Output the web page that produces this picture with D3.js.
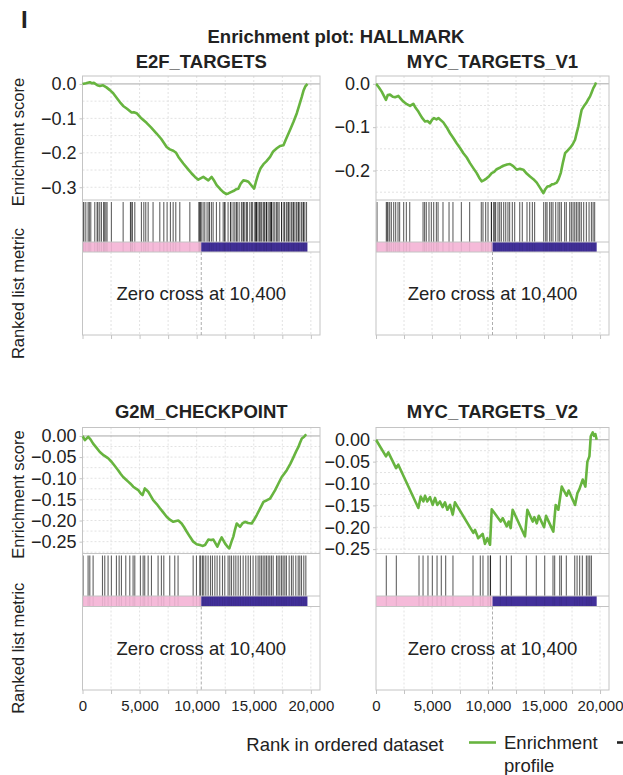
<!DOCTYPE html>
<html>
<head>
<meta charset="utf-8">
<script src="https://cdn.jsdelivr.net/npm/d3@7.9.0/dist/d3.min.js"></script>
<style>
  body { margin: 0; background: #fff; }
  text { font-family: "Liberation Sans", Arial, Helvetica, sans-serif; fill: #222; }
</style>
</head>
<body>
<svg id="chart" width="623" height="775"></svg>
<script>
// ---- data ----
const nGenes = 19700;
const zeroCross = 10400;
const rankMax = 20800;

const e2fCurve = [[0,0],[300,0.002],[640,0.005],[800,0.002],[1000,0.003],[1300,-0.004],[1520,-0.006],[1800,-0.004],[2100,-0.01],
  [2400,-0.018],[2690,-0.027],[3100,-0.045],[3350,-0.056],[3560,-0.064],[3900,-0.072],[4300,-0.083],[4500,-0.082],
  [4740,-0.085],[5100,-0.098],[5300,-0.104],[5610,-0.113],[6000,-0.126],[6490,-0.144],[6900,-0.16],[7370,-0.183],[7650,-0.19],
  [7950,-0.194],[8200,-0.2],[8400,-0.212],[8830,-0.231],[9200,-0.246],[9560,-0.26],[9850,-0.27],
  [10140,-0.278],[10580,-0.27],[11020,-0.28],[11310,-0.27],[11550,-0.282],[11750,-0.294],[12050,-0.305],[12330,-0.314],
  [12600,-0.32],[12770,-0.318],[13000,-0.314],[13210,-0.311],[13450,-0.306],[13650,-0.304],[13850,-0.29],[14090,-0.28],
  [14300,-0.281],[14530,-0.284],[14800,-0.295],[15030,-0.304],[15200,-0.283],[15410,-0.26],[15600,-0.245],[15850,-0.233],
  [16100,-0.225],[16430,-0.212],[16700,-0.196],[17020,-0.187],[17300,-0.18],[17600,-0.178],[17800,-0.162],[18040,-0.144],
  [18250,-0.128],[18480,-0.11],[18770,-0.085],[19000,-0.06],[19210,-0.037],[19350,-0.02],[19500,-0.008],[19700,0]];

const mycV1Curve = [[0,0],[250,-0.008],[510,-0.018],[890,-0.037],[1050,-0.026],[1250,-0.025],[1500,-0.03],[1700,-0.031],[1990,-0.028],
  [2200,-0.034],[2440,-0.041],[2750,-0.047],[3040,-0.051],[3330,-0.046],[3550,-0.056],[3780,-0.064],[4100,-0.078],[4375,-0.087],
  [4600,-0.086],[4820,-0.091],[5000,-0.083],[5180,-0.079],[5400,-0.082],[5570,-0.079],[6010,-0.089],[6300,-0.1],[6610,-0.114],
  [6900,-0.125],[7200,-0.137],[7500,-0.148],[7800,-0.16],[8100,-0.17],[8390,-0.183],[8700,-0.195],[8990,-0.206],[9200,-0.216],
  [9430,-0.225],[9650,-0.222],[9880,-0.218],[10100,-0.213],[10330,-0.206],[10550,-0.203],[10770,-0.197],[11100,-0.193],
  [11370,-0.189],[11700,-0.186],[11960,-0.185],[12250,-0.19],[12560,-0.198],[12850,-0.196],[13150,-0.198],[13450,-0.207],
  [13750,-0.214],[14050,-0.22],[14350,-0.228],[14650,-0.24],[14940,-0.252],[15100,-0.244],[15300,-0.237],[15500,-0.236],
  [15690,-0.232],[15900,-0.231],[16130,-0.228],[16300,-0.22],[16490,-0.206],[16700,-0.18],[16880,-0.16],[17100,-0.154],
  [17320,-0.148],[17550,-0.14],[17770,-0.129],[17900,-0.115],[18070,-0.098],[18200,-0.08],[18360,-0.06],[18550,-0.052],
  [18750,-0.045],[18900,-0.038],[19110,-0.029],[19250,-0.02],[19400,-0.01],[19550,-0.003],[19650,0.003]];

const g2mCurve = [[0,0],[210,-0.01],[500,-0.002],[700,-0.008],[930,-0.018],[1200,-0.027],[1520,-0.038],[1870,-0.046],[2100,-0.05],
  [2300,-0.054],[2540,-0.061],[2800,-0.07],[3120,-0.081],[3350,-0.09],[3560,-0.097],[3800,-0.103],[4000,-0.108],[4200,-0.113],
  [4440,-0.12],[4650,-0.124],[4880,-0.128],[5100,-0.136],[5260,-0.14],[5460,-0.124],[5600,-0.128],[5760,-0.132],[6000,-0.143],
  [6190,-0.152],[6500,-0.161],[6780,-0.171],[7050,-0.18],[7370,-0.191],[7650,-0.198],[7950,-0.203],[8200,-0.201],[8390,-0.2],
  [8680,-0.207],[8900,-0.216],[9120,-0.226],[9400,-0.238],[9700,-0.25],[10000,-0.256],[10290,-0.258],[10500,-0.26],
  [10730,-0.258],[11020,-0.245],[11250,-0.246],[11460,-0.245],[11650,-0.254],[11810,-0.262],[12000,-0.25],[12190,-0.24],
  [12480,-0.254],[12700,-0.262],[12860,-0.266],[13050,-0.25],[13210,-0.238],[13350,-0.222],[13510,-0.207],[13800,-0.215],
  [14000,-0.207],[14240,-0.203],[14500,-0.206],[14820,-0.207],[15050,-0.197],[15260,-0.187],[15550,-0.172],[15850,-0.156],
  [16150,-0.152],[16430,-0.148],[16650,-0.138],[16870,-0.128],[17150,-0.113],[17450,-0.097],[17650,-0.09],[17890,-0.081],
  [18200,-0.066],[18480,-0.05],[18700,-0.037],[18910,-0.026],[19050,-0.016],[19210,-0.006],[19410,-0.002],[19590,0.004]];

const mycV2Curve = [[0,0],[890,-0.038],[1100,-0.029],[1790,-0.065],[1990,-0.057],[3780,-0.156],[3990,-0.13],[4230,-0.141],
  [4375,-0.128],[4580,-0.141],[4820,-0.131],[5060,-0.149],[5270,-0.133],[5470,-0.149],[5710,-0.141],[5950,-0.154],[6160,-0.143],
  [6370,-0.16],[6610,-0.149],[6850,-0.171],[7050,-0.143],[8690,-0.213],[8840,-0.206],[9130,-0.225],[9520,-0.215],[9730,-0.238],
  [9940,-0.225],[10180,-0.24],[10330,-0.159],[11130,-0.187],[11310,-0.179],[11670,-0.198],[11850,-0.187],[12020,-0.202],
  [12200,-0.16],[13300,-0.221],[13510,-0.16],[13990,-0.187],[14140,-0.177],[14350,-0.191],[14530,-0.174],[15000,-0.2],
  [15180,-0.174],[15830,-0.21],[16040,-0.149],[16280,-0.16],[16580,-0.107],[17020,-0.128],[17200,-0.116],[17770,-0.149],
  [17980,-0.122],[18160,-0.113],[18450,-0.091],[18690,-0.107],[18870,-0.05],[19050,-0.038],[19170,0.008],[19350,0.017],
  [19460,0.009],[19580,0.013],[19700,0]];

const e2fHits = [50,120,290,490,600,725,1075,1280,1350,1510,1660,1860,1900,2040,2150,2530,3560,4200,4260,4375,4580,5160,5370,
  5540,5750,6180,6770,7120,7410,7700,7940,8170,8520,9400,10210,10220,10330,10400,10560,10710,10910,11090,11100,11290,11440,
  11730,12020,12320,12460,12470,12750,12960,13000,13190,13340,13480,13550,13720,13920,14070,14080,14210,14360,14450,14650,
  14800,14900,15090,15160,15240,15250,15380,15530,15540,15670,15820,15900,15970,16110,16120,16260,16400,16480,16550,16560,
  16700,16840,16990,17100,17220,17430,17440,17630,17700,17860,18010,18020,18160,18300,18450,18460,18600,18740,18890,18900,
  19030,19180,19330,19340,19470,19620];

const mycV1Hits = [90,920,1000,1070,1220,1370,1580,1755,1965,2110,2470,2710,3010,4200,4340,4490,4730,4940,5150,5390,5540,5980,
  6520,6870,7620,8360,9400,9550,9790,10000,10300,10310,10500,10600,10680,10890,11040,11190,11400,11580,11780,11930,12170,12380,
  12830,13060,13480,13720,13960,14160,14970,15150,15270,15500,15650,15800,16040,16250,16400,16550,16840,16990,17290,17440,
  17590,17740,17890,18040,18180,18330,18540,18780,19020,19230,19380,19520];

const g2mHits = [50,490,640,930,1750,1950,2240,2530,2970,3210,3410,3790,4140,4430,4580,5070,5310,5450,5750,6040,6620,6910,
  7120,7640,8080,8370,9690,9980,10270,10350,10510,10620,10800,11000,11210,11380,11590,11790,12020,12260,12460,12750,12900,
  13050,13250,13430,13630,13830,14070,14300,14510,14710,14940,15180,15380,15530,15670,15820,15970,16110,16260,16400,16550,
  16700,16990,17130,17280,17430,17570,17720,17860,18100,18300,18450,18680,18890,19030,19180,19380,19560];

const mycV2Hits = [920,1815,3840,4200,4640,5030,5450,5830,6220,6870,8660,9310,9550,10000,10210,10220,11100,11640,12080,
  13420,14310,15060,15800,15950,16400,16550,16990,17740,17950,18180,18420,18780,18930,19080,19230];

const tickOneDecimal = [0, -0.1, -0.2, -0.3];
const tickMycV1 = [0, -0.1, -0.2];
const tickTwoDecimal = [0, -0.05, -0.1, -0.15, -0.2, -0.25];
const rankTicks = [0, 5000, 10000, 15000, 20000];

// ---- layout ----
const rows = [
  { top: 76,    esBottom: 200,   barTop: 242, barBottom: 252,   bottom: 335, titleY: 68,  xLabels: false },
  { top: 427.5, esBottom: 553.5, barTop: 596, barBottom: 606.5, bottom: 690, titleY: 418, xLabels: true }
];
const cols = [ { x0: 82.5, x1: 320 }, { x0: 376, x1: 609 } ];

const panels = [
  { name: "E2F_TARGETS",    curve: e2fCurve,   hits: e2fHits,   ticks: tickOneDecimal, fmt: ".1f", grid: 0.05,  dom: [-0.337, 0.023], row: 0, col: 0 },
  { name: "MYC_TARGETS_V1", curve: mycV1Curve, hits: mycV1Hits, ticks: tickMycV1,      fmt: ".1f", grid: 0.05,  dom: [-0.268, 0.018], row: 0, col: 1 },
  { name: "G2M_CHECKPOINT", curve: g2mCurve,   hits: g2mHits,   ticks: tickTwoDecimal, fmt: ".2f", grid: 0.025, dom: [-0.278, 0.02],  row: 1, col: 0 },
  { name: "MYC_TARGETS_V2", curve: mycV2Curve, hits: mycV2Hits, ticks: tickTwoDecimal, fmt: ".2f", grid: 0.025, dom: [-0.26, 0.028],  row: 1, col: 1 }
];

const green = "#67b43f";
const pink = "#f5bad9";
const indigo = "#42309a";
const frame = "#c4c4c4";
const gridCol = "#e2e2e2";

const svg = d3.select("#chart");

svg.append("text").attr("x", 21).attr("y", 28)
  .style("font-size", "24px").style("font-weight", "bold").text("I");

svg.append("text").attr("x", 336).attr("y", 43).attr("text-anchor", "middle")
  .style("font-size", "18.5px").style("font-weight", "bold").text("Enrichment plot: HALLMARK");

function drawPanel(p) {
  const r = rows[p.row];
  const c = cols[p.col];
  const x = d3.scaleLinear().domain([0, rankMax]).range([c.x0, c.x1]);
  const y = d3.scaleLinear().domain(p.dom).range([r.esBottom, r.top]);
  const g = svg.append("g");

  // x gridlines (ES area and lower metric area)
  const xGrid = d3.range(2500, rankMax, 2500);
  [[r.top, r.esBottom], [r.barBottom, r.bottom]].forEach(([a, b]) => {
    g.append("g").selectAll("line").data(xGrid).join("line")
      .attr("x1", d => x(d)).attr("x2", d => x(d))
      .attr("y1", a).attr("y2", b)
      .attr("stroke", gridCol).attr("stroke-dasharray", "2,2");
  });

  // y gridlines
  const yGrid = d3.range(0, p.dom[0] - 1e-9, -p.grid).slice(1);
  g.append("g").selectAll("line").data(yGrid).join("line")
    .attr("x1", c.x0).attr("x2", c.x1)
    .attr("y1", d => y(d)).attr("y2", d => y(d))
    .attr("stroke", gridCol).attr("stroke-dasharray", "2,2");

  // zero line
  g.append("line").attr("x1", c.x0).attr("x2", c.x1)
    .attr("y1", y(0)).attr("y2", y(0)).attr("stroke", "#a8a8a8");

  // ranked list colour bar
  g.append("rect").attr("x", x(0)).attr("y", r.barTop)
    .attr("width", x(zeroCross) - x(0)).attr("height", r.barBottom - r.barTop).attr("fill", pink);
  g.append("rect").attr("x", x(zeroCross)).attr("y", r.barTop)
    .attr("width", x(nGenes) - x(zeroCross)).attr("height", r.barBottom - r.barTop).attr("fill", indigo);

  // hits
  g.append("g").selectAll("line").data(p.hits).join("line")
    .attr("x1", d => x(d)).attr("x2", d => x(d))
    .attr("y1", r.esBottom + 2).attr("y2", r.barTop)
    .attr("stroke", "#000").attr("stroke-opacity", 0.62).attr("stroke-width", 1.1);
  g.append("g").selectAll("line").data(p.hits).join("line")
    .attr("x1", d => x(d)).attr("x2", d => x(d))
    .attr("y1", r.barTop).attr("y2", r.barBottom)
    .attr("stroke", "#000").attr("stroke-opacity", 0.08).attr("stroke-width", 1);

  // separators and frame
  [r.esBottom, r.barTop, r.barBottom].forEach(yy => {
    g.append("line").attr("x1", c.x0).attr("x2", c.x1).attr("y1", yy).attr("y2", yy)
      .attr("stroke", frame);
  });
  g.append("rect").attr("x", c.x0).attr("y", r.top)
    .attr("width", c.x1 - c.x0).attr("height", r.bottom - r.top)
    .attr("fill", "none").attr("stroke", frame);

  // zero cross marker
  g.append("line").attr("x1", x(zeroCross)).attr("x2", x(zeroCross))
    .attr("y1", r.barBottom).attr("y2", r.bottom)
    .attr("stroke", "#999").attr("stroke-dasharray", "3,2").attr("stroke-width", 0.8);
  g.append("text").attr("x", (c.x0 + c.x1) / 2).attr("y", (r.barBottom + r.bottom) / 2)
    .attr("dy", "0.35em").attr("text-anchor", "middle").style("font-size", "18.5px")
    .text("Zero cross at " + d3.format(",")(zeroCross));

  // enrichment profile
  const line = d3.line().x(d => x(d[0])).y(d => y(d[1]));
  g.append("path").datum(p.curve).attr("d", line)
    .attr("fill", "none").attr("stroke", green).attr("stroke-width", 2.6)
    .attr("stroke-linejoin", "round");

  // y axis
  const ya = g.append("g").attr("transform", `translate(${c.x0},0)`)
    .call(d3.axisLeft(y).tickValues(p.ticks).tickFormat(d3.format(p.fmt)).tickSize(3).tickPadding(3));
  ya.select(".domain").remove();
  ya.selectAll("line").attr("stroke", frame);
  ya.selectAll("text").style("font-size", "18px").attr("fill", "#222");

  // x axis
  const xa = g.append("g").attr("transform", `translate(0,${r.bottom})`)
    .call(d3.axisBottom(x).tickValues(d3.range(0, rankMax, 2500)).tickSize(4).tickPadding(6)
      .tickFormat(d => (r.xLabels && rankTicks.includes(d)) ? d3.format(",")(d) : ""));
  xa.select(".domain").remove();
  xa.selectAll("line").attr("stroke", frame);
  xa.selectAll("text").style("font-size", "15px").attr("fill", "#222");

  // panel title
  svg.append("text").attr("x", (c.x0 + c.x1) / 2).attr("y", r.titleY).attr("text-anchor", "middle")
    .style("font-size", "18.5px").style("font-weight", "bold").text(p.name);

  if (p.col === 0) {
    svg.append("text")
      .attr("transform", `translate(18,${(r.top + r.esBottom) / 2 + 4}) rotate(-90)`)
      .attr("dy", "0.35em").attr("text-anchor", "middle").style("font-size", "16.5px")
      .text("Enrichment score");
    svg.append("text")
      .attr("transform", `translate(18,${(r.barBottom + r.bottom) / 2}) rotate(-90)`)
      .attr("dy", "0.35em").attr("text-anchor", "middle").style("font-size", "16.5px")
      .text("Ranked list metric");
  }
}

panels.forEach(drawPanel);

// x axis title and legend
svg.append("text").attr("x", 345).attr("y", 751).attr("text-anchor", "middle")
  .style("font-size", "18.5px").text("Rank in ordered dataset");

svg.append("line").attr("x1", 469).attr("x2", 496).attr("y1", 742.5).attr("y2", 742.5)
  .attr("stroke", green).attr("stroke-width", 2.6);
svg.append("text").attr("x", 504).attr("y", 749).style("font-size", "18.5px").text("Enrichment");
svg.append("text").attr("x", 504).attr("y", 772).style("font-size", "18.5px").text("profile");
svg.append("line").attr("x1", 617).attr("x2", 625).attr("y1", 742.5).attr("y2", 742.5)
  .attr("stroke", "#222").attr("stroke-width", 2.6);
</script>
</body>
</html>
